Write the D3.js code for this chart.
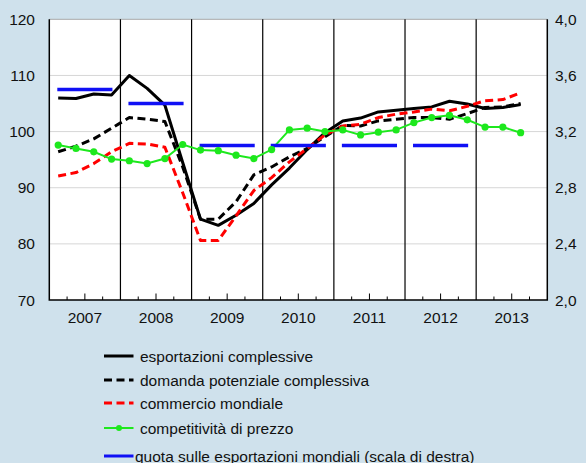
<!DOCTYPE html>
<html>
<head>
<meta charset="utf-8">
<script src="https://cdn.jsdelivr.net/npm/d3@7"></script>
<style>
  html, body { margin: 0; padding: 0; background: #cfe1ec; }
  svg { display: block; font-family: "Liberation Sans", Arial, sans-serif; }
</style>
</head>
<body>
<div id="chart"></div>
<script>
// data: quarterly indices 2007Q1 - 2013Q3 (left scale), yearly share (right scale)
const years = [2007, 2008, 2009, 2010, 2011, 2012, 2013];

const esportazioni = [
    106.0, 105.9, 106.7, 106.5,
    110.0, 107.7, 104.7, 94.5,
    84.4, 83.3, 85.1, 87.2,
    90.5, 93.5, 96.8, 99.8,
    101.9, 102.4, 103.5, 103.8,
    104.1, 104.4, 105.4, 104.9,
    104.1, 104.3, 104.8
];

const domanda = [
    96.4, 97.4, 98.7, 100.6,
    102.5, 102.2, 101.8, 93.7,
    84.4, 84.4, 87.5, 92.3,
    93.7, 95.5, 97.0, 99.1,
    101.1, 101.0, 101.9, 102.2,
    102.5, 102.5, 102.2, 103.2,
    104.3, 104.4, 105.0
];

const commercio = [
    92.1, 92.7, 94.3, 96.4,
    97.9, 97.8, 97.2, 89.1,
    80.6, 80.6, 85.0, 89.5,
    91.8, 94.6, 97.0, 99.4,
    101.0, 101.3, 102.5, 103.1,
    103.5, 104.0, 103.7, 104.5,
    105.5, 105.7, 106.9
];

const competitivita = [
    97.6, 97.0, 96.4, 95.1,
    94.8, 94.3, 95.2, 97.7,
    96.7, 96.6, 95.8, 95.2,
    96.8, 100.3, 100.6, 100.0,
    100.3, 99.4, 99.9, 100.3,
    101.6, 102.5, 102.9, 102.1,
    100.8, 100.8, 99.8
];

// quota sulle esportazioni mondiali (right scale), one value a year
const quotaYears = [2007, 2008, 2009, 2010, 2011, 2012];
const quota = [3.5, 3.4, 3.1, 3.1, 3.1, 3.1];

const leftTicks = [70, 80, 90, 100, 110, 120];
const rightTicks = [2.0, 2.4, 2.8, 3.2, 3.6, 4.0];

const width = 586;
const height = 463;
const plot = {left: 49.3, right: 547.3, top: 19.3, bottom: 300};

let svg = d3.select('#chart')
    .append('svg')
    .attr('width', width)
    .attr('height', height);

// x: quarter index, 0 = start of 2007
let x = d3.scaleLinear()
    .domain([0, years.length * 4])
    .range([plot.left, plot.right]);

let y = d3.scaleLinear()
    .domain([70, 120])
    .range([plot.bottom, plot.top]);

let yRight = d3.scaleLinear()
    .domain([2.0, 4.0])
    .range([plot.bottom, plot.top]);

// plot background
svg.append('rect')
    .attr('x', plot.left)
    .attr('y', plot.top)
    .attr('width', plot.right - plot.left)
    .attr('height', plot.bottom - plot.top)
    .attr('fill', '#ffffff');

// horizontal gridlines
svg.append('g')
    .selectAll('line')
    .data(leftTicks.slice(1))
    .join('line')
    .attr('x1', plot.left)
    .attr('x2', plot.right)
    .attr('y1', d => y(d))
    .attr('y2', d => y(d))
    .attr('stroke', d => d === 120 ? '#a9a9a9' : '#d6d6d6')
    .attr('stroke-width', 1);

// year separators
svg.append('g')
    .selectAll('line')
    .data(d3.range(1, years.length))
    .join('line')
    .attr('x1', d => x(d * 4))
    .attr('x2', d => x(d * 4))
    .attr('y1', plot.top)
    .attr('y2', plot.bottom)
    .attr('stroke', '#000')
    .attr('stroke-width', 1.2);

// frame: left, right, bottom
svg.append('path')
    .attr('d', `M${plot.left},${plot.top}V${plot.bottom}H${plot.right}V${plot.top}`)
    .attr('fill', 'none')
    .attr('stroke', '#000')
    .attr('stroke-width', 1.5);

// quarter ticks (longer at mid-year)
let quarterTicks = d3.range(0, years.length * 4).filter(q => q % 4 !== 0);
svg.append('g')
    .selectAll('line')
    .data(quarterTicks)
    .join('line')
    .attr('x1', d => x(d))
    .attr('x2', d => x(d))
    .attr('y1', plot.bottom)
    .attr('y2', d => plot.bottom - (d % 4 === 2 ? 6.5 : 3.5))
    .attr('stroke', '#000')
    .attr('stroke-width', 1);

// year labels
svg.append('g')
    .selectAll('text')
    .data(years)
    .join('text')
    .attr('x', (d, i) => x(i * 4 + 2))
    .attr('y', 323)
    .attr('text-anchor', 'middle')
    .attr('font-size', 15.5)
    .attr('fill', '#111')
    .text(d => d);

// left axis labels
svg.append('g')
    .selectAll('text')
    .data(leftTicks)
    .join('text')
    .attr('x', 35)
    .attr('y', d => y(d) + 5.5)
    .attr('text-anchor', 'end')
    .attr('font-size', 15.5)
    .attr('fill', '#111')
    .text(d => d);

// right axis labels
svg.append('g')
    .selectAll('text')
    .data(rightTicks)
    .join('text')
    .attr('x', 555)
    .attr('y', d => yRight(d) + 5.5)
    .attr('text-anchor', 'start')
    .attr('font-size', 15.5)
    .attr('fill', '#111')
    .text(d => d.toFixed(1).replace('.', ','));

// series lines
let line = d3.line()
    .x((d, i) => x(i + 0.5))
    .y(d => y(d));

const series = [
    {name: 'esportazioni complessive', values: esportazioni, color: '#000000', width: 3, dash: null},
    {name: 'domanda potenziale complessiva', values: domanda, color: '#000000', width: 3, dash: '8,4.5'},
    {name: 'commercio mondiale', values: commercio, color: '#ff0000', width: 3, dash: '8,4.5'},
    {name: 'competitività di prezzo', values: competitivita, color: '#1de81d', width: 2, dash: null}
];

let lines = svg.append('g');

series.slice(0, 3).forEach(function(s) {
    lines.append('path')
        .datum(s.values)
        .attr('d', line)
        .attr('fill', 'none')
        .attr('stroke', s.color)
        .attr('stroke-width', s.width)
        .attr('stroke-dasharray', s.dash)
        .attr('stroke-linejoin', 'round');
});

// quota: one blue segment per year
svg.append('g')
    .selectAll('line')
    .data(quota)
    .join('line')
    .attr('x1', (d, i) => x(years.indexOf(quotaYears[i]) * 4 + 0.45))
    .attr('x2', (d, i) => x(years.indexOf(quotaYears[i]) * 4 + 3.55))
    .attr('y1', d => yRight(d))
    .attr('y2', d => yRight(d))
    .attr('stroke', '#1010f5')
    .attr('stroke-width', 3.5);

// competitività on top, with markers
let comp = series[3];
lines.append('path')
    .datum(comp.values)
    .attr('d', line)
    .attr('fill', 'none')
    .attr('stroke', comp.color)
    .attr('stroke-width', comp.width);

svg.append('g')
    .selectAll('circle')
    .data(comp.values)
    .join('circle')
    .attr('cx', (d, i) => x(i + 0.5))
    .attr('cy', d => y(d))
    .attr('r', 3.6)
    .attr('fill', comp.color);

// legend
const legendItems = [
    {label: 'esportazioni complessive', color: '#000000', dash: null, width: 3, dot: false},
    {label: 'domanda potenziale complessiva', color: '#000000', dash: '8,4.5', width: 3, dot: false},
    {label: 'commercio mondiale', color: '#ff0000', dash: '8,4.5', width: 3, dot: false},
    {label: 'competitività di prezzo', color: '#1de81d', dash: null, width: 2, dot: true},
    {label: 'quota sulle esportazioni mondiali (scala di destra)', color: '#1010f5', dash: null, width: 3, dot: false}
];
const legendY = [356, 380, 403, 428, 456];

let legend = svg.append('g');
legendItems.forEach(function(d, i) {
    let row = legend.append('g').attr('transform', `translate(104,${legendY[i]})`);
    row.append('line')
        .attr('x1', 0)
        .attr('x2', 29.5)
        .attr('stroke', d.color)
        .attr('stroke-width', d.width)
        .attr('stroke-dasharray', d.dash);
    if (d.dot) {
        row.append('circle').attr('cx', 15).attr('r', 3).attr('fill', d.color);
    }
    row.append('text')
        .attr('x', i === 4 ? 31 : 36)
        .attr('y', 5.5)
        .attr('font-size', 15.5)
        .attr('fill', '#111')
        .text(d.label);
});
</script>
</body>
</html>
